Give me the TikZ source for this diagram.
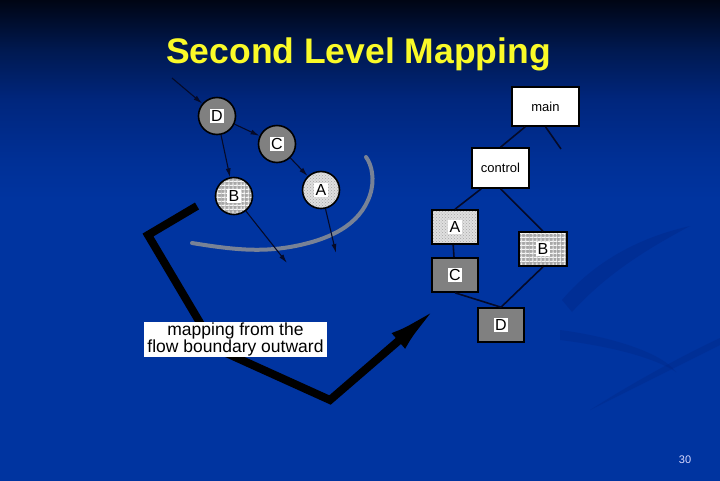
\documentclass[tikz,border=0pt]{standalone}
\usepackage{fontspec}
\setmainfont{Liberation Sans}
\usetikzlibrary{arrows.meta,patterns,patterns.meta,shadings}
\definecolor{bgA}{RGB}{0,5,20}
\definecolor{bgB}{RGB}{0,25,80}
\definecolor{bgC}{RGB}{0,38,125}
\definecolor{bgD}{RGB}{0,48,150}
\definecolor{bgE}{RGB}{0,52,160}
\definecolor{ttl}{RGB}{250,250,40}
\definecolor{lnk}{RGB}{5,10,40}
\definecolor{arcg}{RGB}{120,130,150}
\definecolor{swirl}{RGB}{0,36,130}
\definecolor{midgray}{RGB}{128,128,128}
\pgfdeclareverticalshading{bgshade}{100bp}{color(0bp)=(bgE); color(54bp)=(bgE); color(58.3bp)=(bgD); color(64.6bp)=(bgC); color(69.8bp)=(bgB); color(75bp)=(bgA); color(100bp)=(bgA)}
\tikzset{
  circ/.style={circle, draw=black, line width=1.6pt, minimum size=37pt, inner sep=0pt},
  rbox/.style={rectangle, draw=black, line width=1.6pt, inner sep=0pt},
  lab/.style={fill=white, inner sep=1.5pt, font=\fontsize{16}{16}\selectfont},
  arr/.style={draw=lnk, line width=1.1pt, -{Latex[length=9pt,width=5pt]}},
  lnkline/.style={draw=lnk, line width=1.6pt},
  graysolid/.style={fill=midgray},
  checker/.style={preaction={fill=gray!70},
    preaction={pattern={Lines[angle=0,distance=4pt,line width=1.1pt]}, pattern color=white!92!gray},
    pattern={Lines[angle=90,distance=4pt,line width=1.1pt]}, pattern color=white!92!gray},
  dotty/.style={preaction={fill=gray!25}, pattern=crosshatch dots, pattern color=gray!70}
}
\begin{document}
\begin{tikzpicture}[x=1pt,y=-1pt]
\useasboundingbox (0,0) rectangle (720,480);
\shade[shading=bgshade] (0,0) rectangle (720,480);
% faint darker swirls
\fill[swirl, opacity=0.35] (562,300) .. controls (600,255) and (650,235) .. (690,226) .. controls (655,245) and (610,270) .. (572,312) -- cycle;
\fill[swirl, opacity=0.3] (560,330) .. controls (600,335) and (660,350) .. (676,372) .. controls (650,355) and (600,345) .. (560,340) -- cycle;
\fill[swirl, opacity=0.3] (720,345) .. controls (690,360) and (640,385) .. (590,410) .. controls (640,378) and (690,352) .. (720,338) -- cycle;

% title
\node[text=ttl, anchor=base, font=\bfseries\fontsize{35.5}{36}\selectfont] (title) at (358.5,63) {Second Level Mapping};

% gray arc
\draw[arcg, line width=4pt, line cap=round] (192,243) .. controls (235,250) and (260,252) .. (290,247) .. controls (330,240) and (360,225) .. (370,195) .. controls (375,180) and (372,165) .. (366,157);

% circles
\node[circ, graysolid] (cD) at (217,116) {};
\node[circ, graysolid] (cC) at (277,144) {};
\node[circ, checker] (cB) at (234,196) {};
\node[circ, dotty] (cA) at (321,190) {};
\node[lab] at (cD) {D};
\node[lab] at (cC) {C};
\node[lab] at (cB) {B};
\node[lab] at (cA) {A};
\coordinate (inD) at (172,78);
\coordinate (outB) at (287,263);
\coordinate (outA) at (336,253);
\draw[arr] (inD) -- (cD);
\draw[arr] (cD) -- (cC);
\draw[arr] (cD) -- (cB);
\draw[arr] (cC) -- (cA);
\draw[arr] (cB) -- (outB);
\draw[arr] (cA) -- (outA);

% thick black path
\coordinate (p0) at (197,206);
\coordinate (p1) at (148,235);
\coordinate (p2) at (215,348);
\coordinate (p3) at (330,400);
\coordinate (p4) at (440,305);
\draw[black, line width=8pt, -{Latex[length=55pt,width=20pt]}] (p0) -- (p1) -- (p2) -- (p3) -- (p4);

% label
\node[fill=white, minimum width=183pt, minimum height=35pt, inner sep=0pt, align=center, font=\fontsize{17.5}{16.5}\selectfont] (lbl) at (235.5,339.5) {mapping from the\\flow boundary outward};

% tree
\node[rbox, fill=white, minimum width=67pt, minimum height=39pt, font=\fontsize{13}{13}\selectfont] (main) at (545.5,106.5) {main};
\node[rbox, fill=white, minimum width=57pt, minimum height=40pt, font=\fontsize{13}{13}\selectfont] (ctrl) at (500.5,168) {control};
\node[rbox, dotty, minimum width=46pt, minimum height=34pt] (bA) at (455,227) {};
\node[rbox, checker, minimum width=48pt, minimum height=34pt] (bB) at (543,249) {};
\node[rbox, graysolid, minimum width=46pt, minimum height=34pt] (bC) at (455,275) {};
\node[rbox, graysolid, minimum width=46pt, minimum height=34pt] (bD) at (501,325) {};
\node[lab] at (bA) {A};
\node[lab] at (bB) {B};
\node[lab] at (bC) {C};
\node[lab] at (bD) {D};
\coordinate (dang) at (561,149);
\draw[lnkline] (main.south west) ++(14,0) coordinate (m1) -- (ctrl.north);
\draw[lnkline] (main.south) -- (dang);
\draw[lnkline] (ctrl.south west) ++(10,0) -- (bA.north);
\draw[lnkline] (ctrl.south) -- (bB.north);
\draw[lnkline] (bA.south west) ++(22,0) -- ([xshift=-1pt]bC.north);
\draw[lnkline] (bC.south) -- (bD.north);
\draw[lnkline] (bB.south) -- (bD.north);

% page number
\node[text=white!85!blue, font=\fontsize{11}{11}\selectfont] (pg) at (685,460) {30};
\end{tikzpicture}
\end{document}
